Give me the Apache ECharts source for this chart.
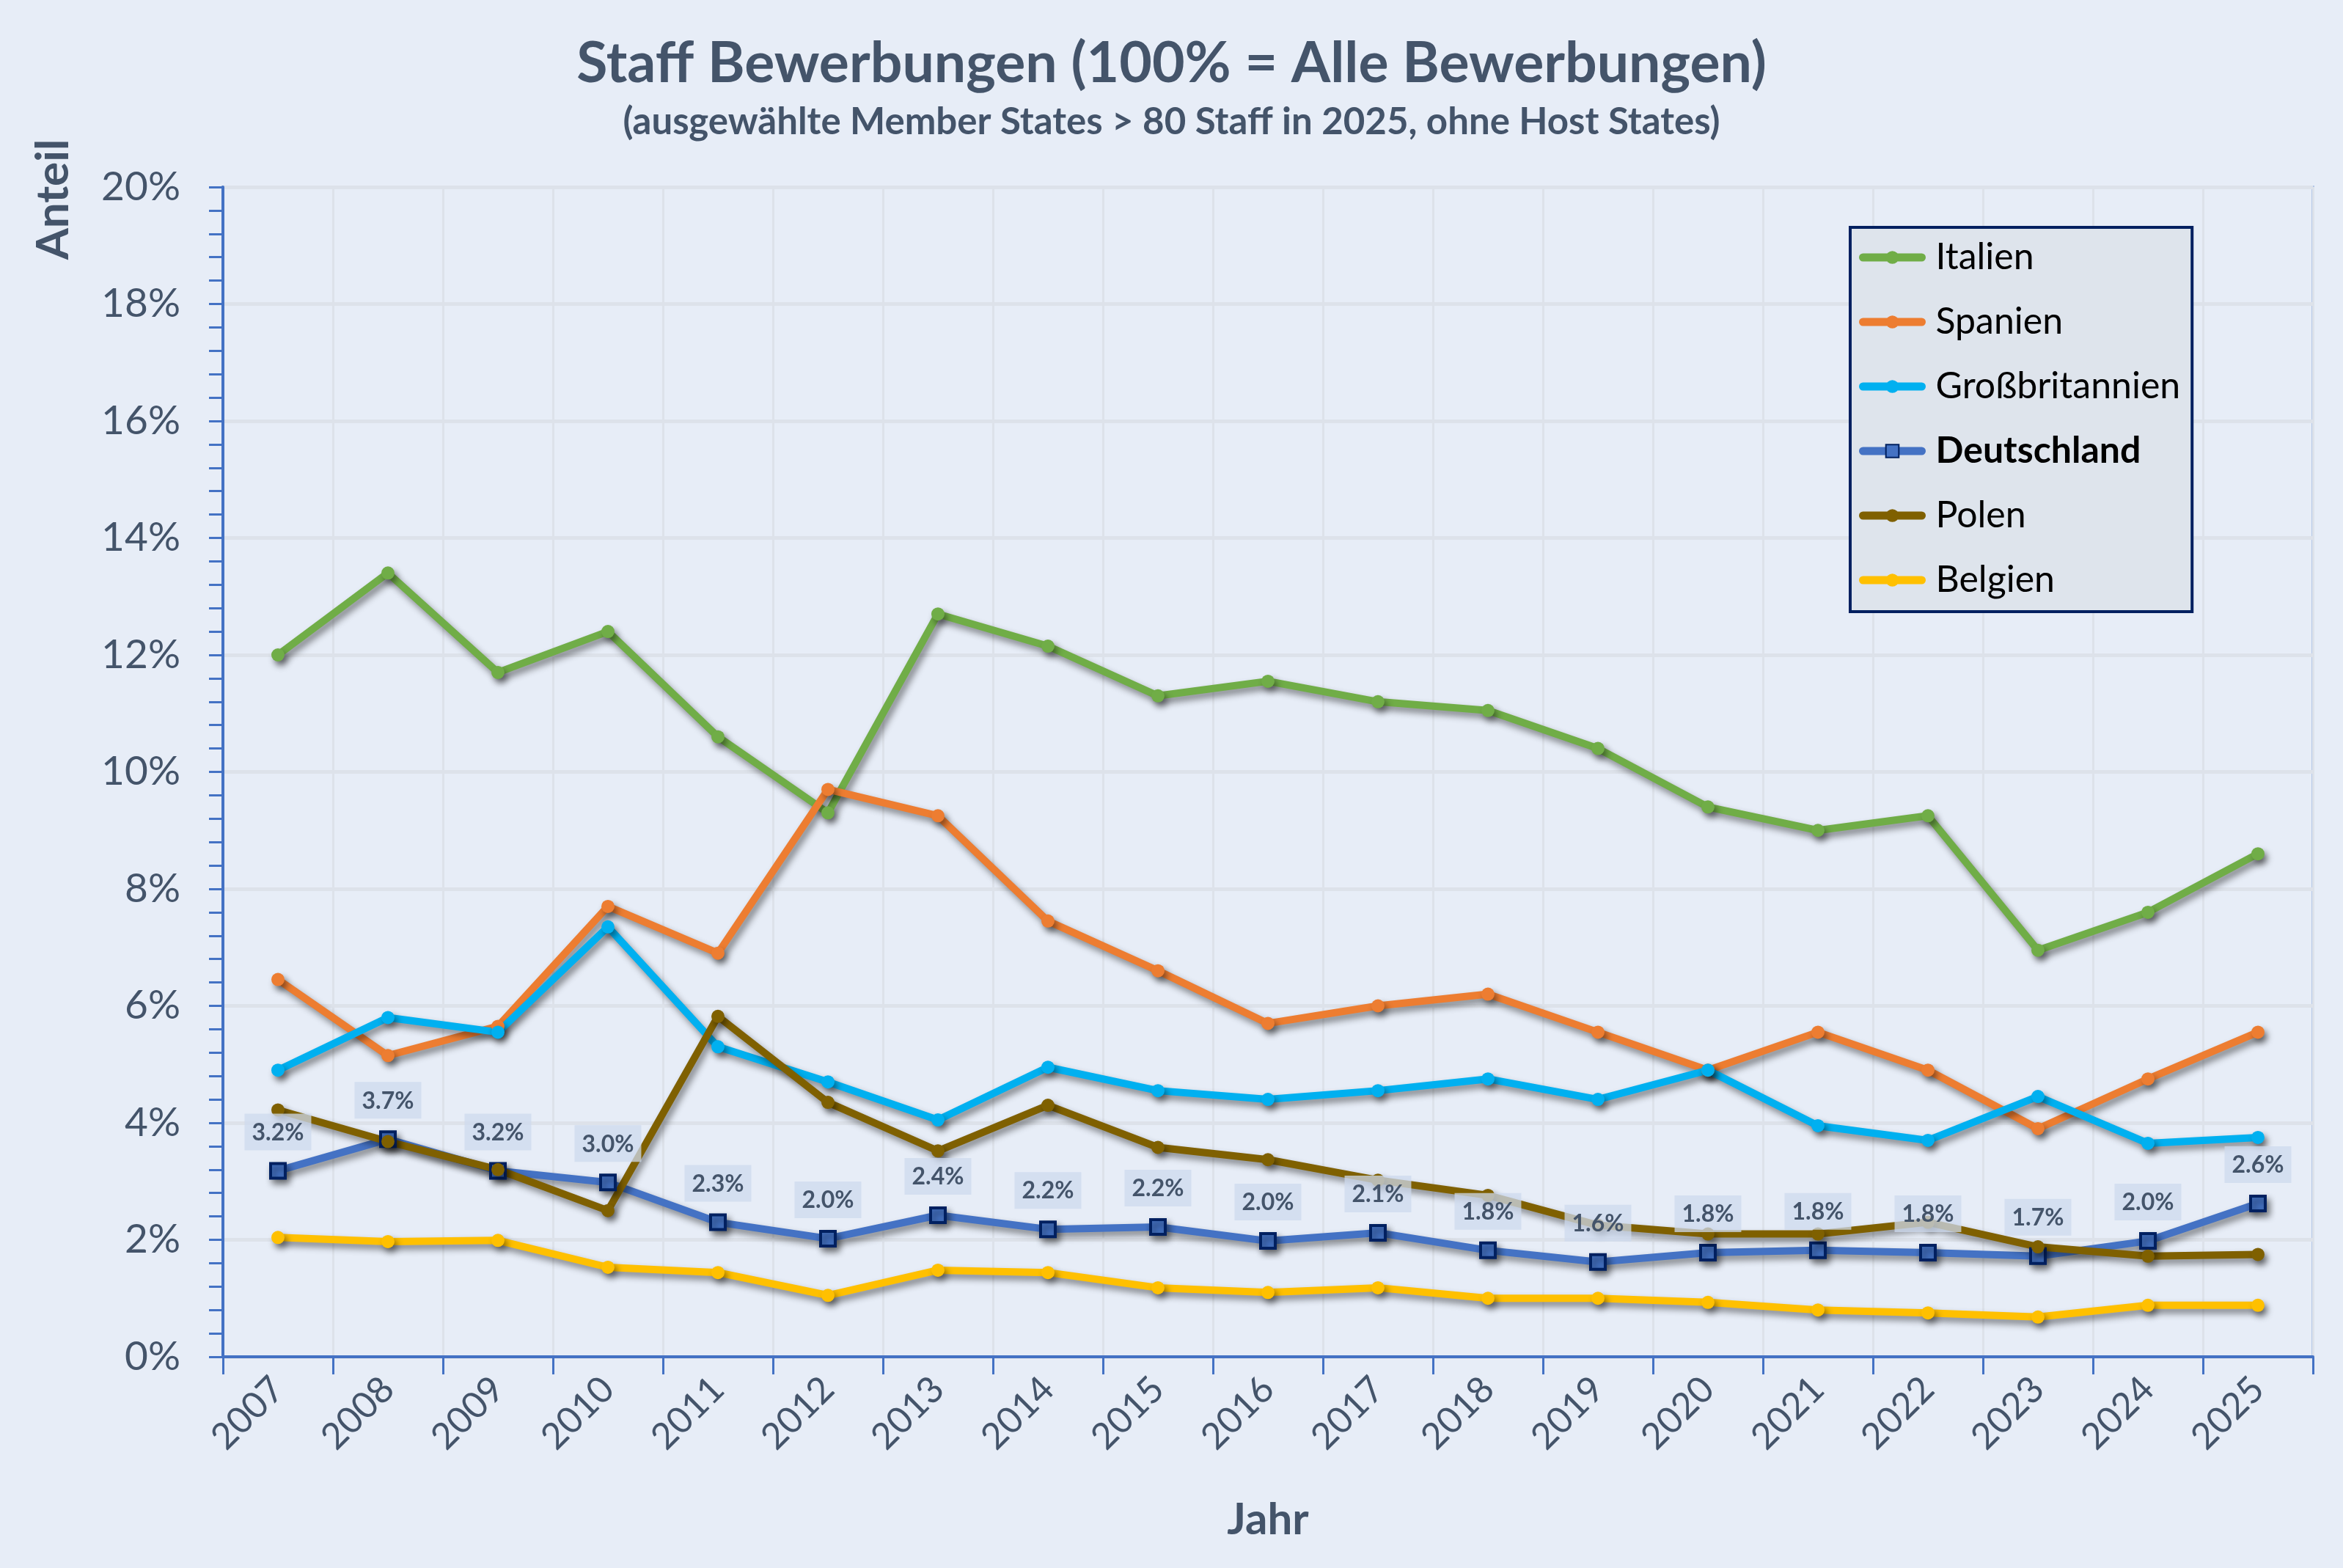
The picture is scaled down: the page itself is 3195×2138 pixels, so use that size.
<!DOCTYPE html>
<html>
<head>
<meta charset="utf-8">
<script src="https://cdn.jsdelivr.net/npm/echarts@6/dist/echarts.min.js"></script>
<style>
html,body{margin:0;padding:0;background:#E7EDF7;}
#chart{width:3195px;height:2138px;}
</style>
</head>
<body>
<div id="chart"></div>
<script>
const years = ['2007','2008','2009','2010','2011','2012','2013','2014','2015','2016','2017','2018','2019','2020','2021','2022','2023','2024','2025'];
const italien = [12.0, 13.4, 11.7, 12.4, 10.6, 9.3, 12.7, 12.15, 11.3, 11.55, 11.2, 11.05, 10.4, 9.4, 9.0, 9.25, 6.95, 7.6, 8.6];
const spanien = [6.45, 5.15, 5.65, 7.7, 6.9, 9.7, 9.25, 7.45, 6.6, 5.7, 6.0, 6.2, 5.55, 4.9, 5.55, 4.9, 3.9, 4.75, 5.55];
const grossbritannien = [4.9, 5.8, 5.55, 7.35, 5.3, 4.7, 4.05, 4.95, 4.55, 4.4, 4.55, 4.75, 4.4, 4.9, 3.95, 3.7, 4.45, 3.65, 3.75];
const deutschland = [3.18, 3.72, 3.18, 2.98, 2.30, 2.02, 2.42, 2.18, 2.22, 1.98, 2.12, 1.82, 1.62, 1.78, 1.82, 1.78, 1.72, 1.98, 2.62];
const polen = [4.22, 3.68, 3.2, 2.5, 5.82, 4.35, 3.52, 4.3, 3.58, 3.37, 3.02, 2.76, 2.25, 2.1, 2.1, 2.3, 1.88, 1.72, 1.75];
const belgien = [2.04, 1.97, 1.99, 1.53, 1.44, 1.05, 1.48, 1.44, 1.18, 1.1, 1.18, 1.0, 1.0, 0.93, 0.8, 0.75, 0.68, 0.88, 0.88];
const yTicks = [0, 2, 4, 6, 8, 10, 12, 14, 16, 18, 20];

const FONT = 'Lato';
const TXT = '#44546A';
const shadow = {shadowColor:'rgba(0,0,0,0.45)', shadowBlur:10, shadowOffsetX:4, shadowOffsetY:6};

function lineSeries(name, data, color, extra) {
  return Object.assign({
    name: name,
    type: 'line',
    data: data,
    symbol: 'circle',
    symbolSize: 18,
    lineStyle: Object.assign({color: color, width: 10, cap: 'round', join: 'round'}, shadow),
    itemStyle: Object.assign({color: color}, shadow),
    emphasis: {disabled: true},
    animation: false
  }, extra || {});
}

const chart = echarts.init(document.getElementById('chart'), null, {renderer: 'canvas'});
chart.setOption({
  backgroundColor: '#E7EDF7',
  textStyle: {fontFamily: FONT},
  title: [
    {text: 'Staff Bewerbungen (100% = Alle Bewerbungen)', left: 'center', top: 44,
     textStyle: {fontFamily: FONT, fontSize: 77, fontWeight: 'bold', color: TXT}},
    {text: '(ausgewählte Member States > 80 Staff in 2025, ohne Host States)', left: 'center', top: 136,
     textStyle: {fontFamily: FONT, fontSize: 51, fontWeight: 'bold', color: TXT}}
  ],
  graphic: [
    {type: 'text', x: 73, y: 272, rotation: Math.PI / 2,
     style: {text: 'Anteil', fontFamily: FONT, fontSize: 62, fontWeight: 'bold', fill: TXT,
             textAlign: 'center', textVerticalAlign: 'middle'}}
  ],
  legend: {
    orient: 'vertical',
    left: 2523, top: 310,
    padding: [16, 16, 18, 12],
    backgroundColor: '#DEE4EC',
    borderColor: '#002060',
    borderWidth: 4,
    borderRadius: 0,
    itemWidth: 80, itemHeight: 22,
    itemGap: 38,
    lineStyle: {width: 11, cap: 'round'},
    textStyle: {fontFamily: FONT, fontSize: 50, color: '#000', padding: [0, 0, 0, 14]},
    data: ['Italien', 'Spanien', 'Großbritannien', {name: 'Deutschland', textStyle: {fontWeight: 'bold'}}, 'Polen', 'Belgien']
  },
  grid: {left: 304, right: 41, top: 255, bottom: 288, show: true, borderColor: '#B4C7E7', borderWidth: 4, backgroundColor: 'transparent'},
  xAxis: {
    type: 'category',
    data: years,
    boundaryGap: true,
    name: 'Jahr',
    nameLocation: 'middle',
    nameGap: 193,
    nameTextStyle: {fontFamily: FONT, fontSize: 60, fontWeight: 'bold', color: TXT},
    axisLine: {lineStyle: {color: '#4472C4', width: 4}},
    axisTick: {show: true, length: 24, lineStyle: {color: '#4472C4', width: 3}},
    axisLabel: {rotate: 45, margin: 36, fontFamily: FONT, fontSize: 50, color: TXT},
    splitLine: {show: true, lineStyle: {color: '#DDE2EA', width: 3}}
  },
  yAxis: {
    type: 'value',
    min: 0, max: 20, interval: 2,
    axisLine: {show: true, lineStyle: {color: '#4472C4', width: 4}},
    axisTick: {show: true, length: 19, lineStyle: {color: '#4472C4', width: 3}},
    minorTick: {show: true, splitNumber: 5, length: 19, lineStyle: {color: '#4472C4', width: 3}},
    axisLabel: {formatter: function (v) { return yTicks.indexOf(v) >= 0 ? v + '%' : ''; }, margin: 58, fontFamily: FONT, fontSize: 55, color: TXT},
    splitLine: {show: true, lineStyle: {color: '#DDE2EA', width: 5}}
  },
  series: [
    lineSeries('Italien', italien, '#70AD47'),
    lineSeries('Spanien', spanien, '#ED7D31'),
    lineSeries('Großbritannien', grossbritannien, '#00B0F0'),
    lineSeries('Deutschland', deutschland, '#4472C4', {
      symbol: 'rect', symbolSize: 20,
      itemStyle: Object.assign({color: '#4472C4', borderColor: '#002060', borderWidth: 4}, shadow),
      label: {
        show: true, position: 'top', distance: 16,
        formatter: function (p) { return p.value.toFixed(1) + '%'; },
        fontFamily: FONT, fontSize: 32, fontWeight: 'bold', color: TXT,
        backgroundColor: 'rgba(205,218,237,0.75)', padding: [10, 10, 8, 10]
      }
    }),
    lineSeries('Polen', polen, '#7F6000'),
    lineSeries('Belgien', belgien, '#FFC000')
  ]
});
</script>
</body>
</html>
